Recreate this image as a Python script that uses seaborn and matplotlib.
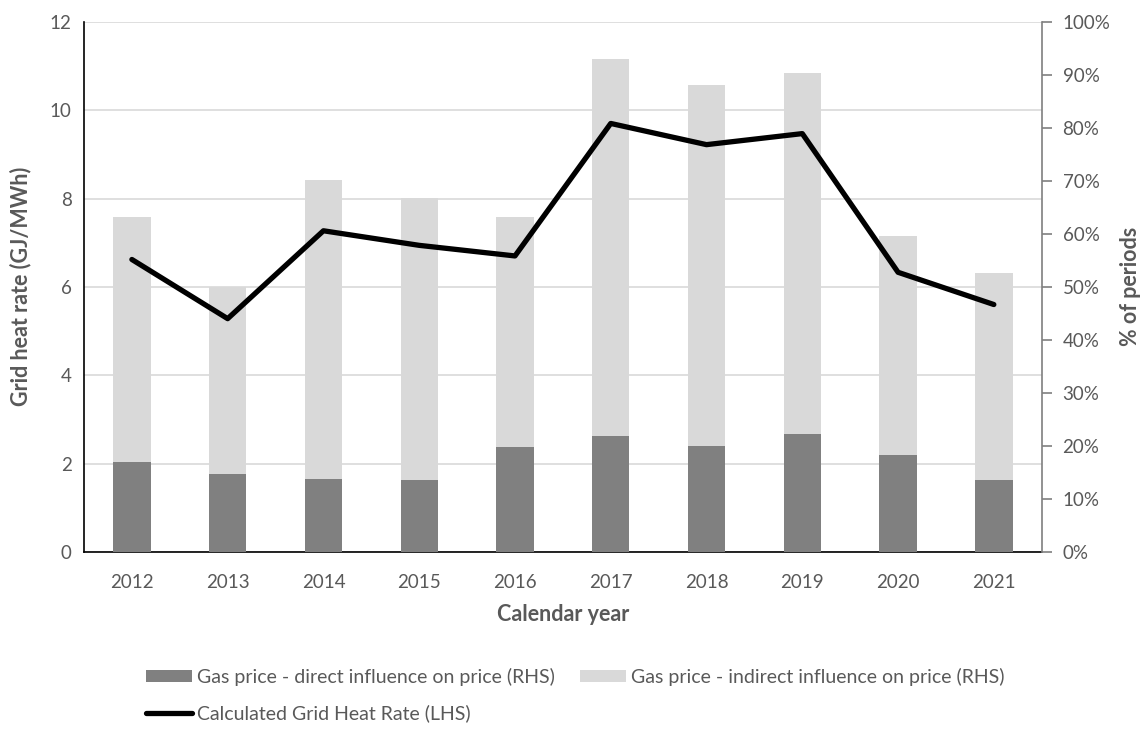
import numpy as np
import pandas as pd
import matplotlib
matplotlib.use("Agg")
import matplotlib.pyplot as plt
import seaborn as sns
from matplotlib.patches import Patch
from matplotlib.lines import Line2D
from matplotlib.ticker import PercentFormatter

# -----------------------------
# DATA
# -----------------------------
years = ["2012", "2013", "2014", "2015", "2016", "2017", "2018", "2019", "2020", "2021"]
direct_pct = [16.9, 14.7, 13.8, 13.5, 19.7, 21.9, 19.9, 22.3, 18.2, 13.5]
indirect_pct = [46.3, 35.3, 56.3, 53.2, 43.5, 71.0, 68.2, 68.1, 41.4, 39.1]
heat_rate = [6.62, 5.28, 7.27, 6.94, 6.70, 9.70, 9.22, 9.47, 6.33, 5.60]

df = pd.DataFrame({
    "year": years,
    "direct": direct_pct,
    "indirect": indirect_pct,
    "heat": heat_rate,
})
df["total"] = df["direct"] + df["indirect"]

# -----------------------------
# STYLE
# -----------------------------
sns.set_theme(style="white")
plt.rcParams["font.family"] = ["Lato", "DejaVu Sans"]

txt = "#595959"
dark = "#808080"
light = "#d9d9d9"

fig = plt.figure(figsize=(11.46, 7.29), dpi=100)
ax = fig.add_axes([0.0733, 0.243, 0.8357, 0.727])
ax2 = ax.twinx()   # bars, % of periods
ax3 = ax.twinx()   # line, GJ/MWh

# -----------------------------
# BARS (RHS)
# -----------------------------
sns.barplot(data=df, x="year", y="total", color=light, saturation=1,
            width=0.39, errorbar=None, ax=ax2, edgecolor="none")
sns.barplot(data=df, x="year", y="direct", color=dark, saturation=1,
            width=0.39, errorbar=None, ax=ax2, edgecolor="none")

# -----------------------------
# LINE (LHS)
# -----------------------------
sns.pointplot(data=df, x="year", y="heat", color="black", errorbar=None,
              markers="", linewidth=3.8, ax=ax3)

n = len(years)
for a in (ax, ax2, ax3):
    a.set_xlim(-0.5, n - 0.5)
ax.set_ylim(0, 12)
ax3.set_ylim(0, 12)
ax2.set_ylim(0, 100)

# left axis + grid
ax.set_yticks(np.arange(0, 13, 2))
ax.yaxis.grid(True, color="#d9d9d9", linewidth=1.2)
ax.set_axisbelow(True)
ax.tick_params(axis="y", length=0, pad=9, labelsize=13.5, labelcolor=txt)
ax.set_ylabel("Grid heat rate (GJ/MWh)", fontsize=15.5, fontweight="bold",
              color=txt, labelpad=13)

# x axis
ax.set_xticks(range(n))
ax.set_xticklabels(years)
ax.set_xticks(np.arange(-0.5, n, 1), minor=True)
ax.tick_params(axis="x", which="major", length=0, pad=16, labelsize=13.5,
               labelcolor=txt)
ax.tick_params(axis="x", which="minor", length=7, width=1.2, color="black",
               direction="out")
ax.set_xlabel("Calendar year", fontsize=15.5, fontweight="bold", color=txt,
              labelpad=9)

# right axis
ax2.set_yticks(np.arange(0, 101, 10))
ax2.yaxis.set_major_formatter(PercentFormatter(decimals=0))
ax2.tick_params(axis="y", length=7, width=1.2, color="#7f7f7f", pad=8,
                labelsize=13.5, labelcolor=txt, direction="out")
ax2.set_ylabel("% of periods", fontsize=15.5, fontweight="bold", color=txt,
               labelpad=7)
ax2.set_xlabel("")
ax3.axis("off")

for s in ("top", "right"):
    ax.spines[s].set_visible(False)
for s in ("top", "left", "bottom"):
    ax2.spines[s].set_visible(False)
ax.spines["left"].set_color("black")
ax.spines["bottom"].set_color("black")
ax.spines["left"].set_linewidth(1.2)
ax.spines["bottom"].set_linewidth(1.2)
ax2.spines["right"].set_color("#7f7f7f")
ax2.spines["right"].set_linewidth(1.2)

# -----------------------------
# LEGEND
# -----------------------------
handles = [
    Patch(facecolor=dark, edgecolor="none"),
    Line2D([0], [0], color="black", linewidth=3.8, solid_capstyle="round"),
    Patch(facecolor=light, edgecolor="none"),
]
labels = [
    "Gas price - direct influence on price (RHS)",
    "Calculated Grid Heat Rate (LHS)",
    "Gas price - indirect influence on price (RHS)",
]
leg = fig.legend(handles, labels, ncol=2, loc="upper left",
                 bbox_to_anchor=(0.127, 0.084), frameon=False,
                 fontsize=14, handlelength=2.37, handleheight=0.6,
                 handletextpad=0.26, columnspacing=1.3, labelspacing=0.95,
                 borderpad=0, borderaxespad=0)
for t in leg.get_texts():
    t.set_color(txt)

plt.savefig("out.png", dpi=100)
plt.close()
